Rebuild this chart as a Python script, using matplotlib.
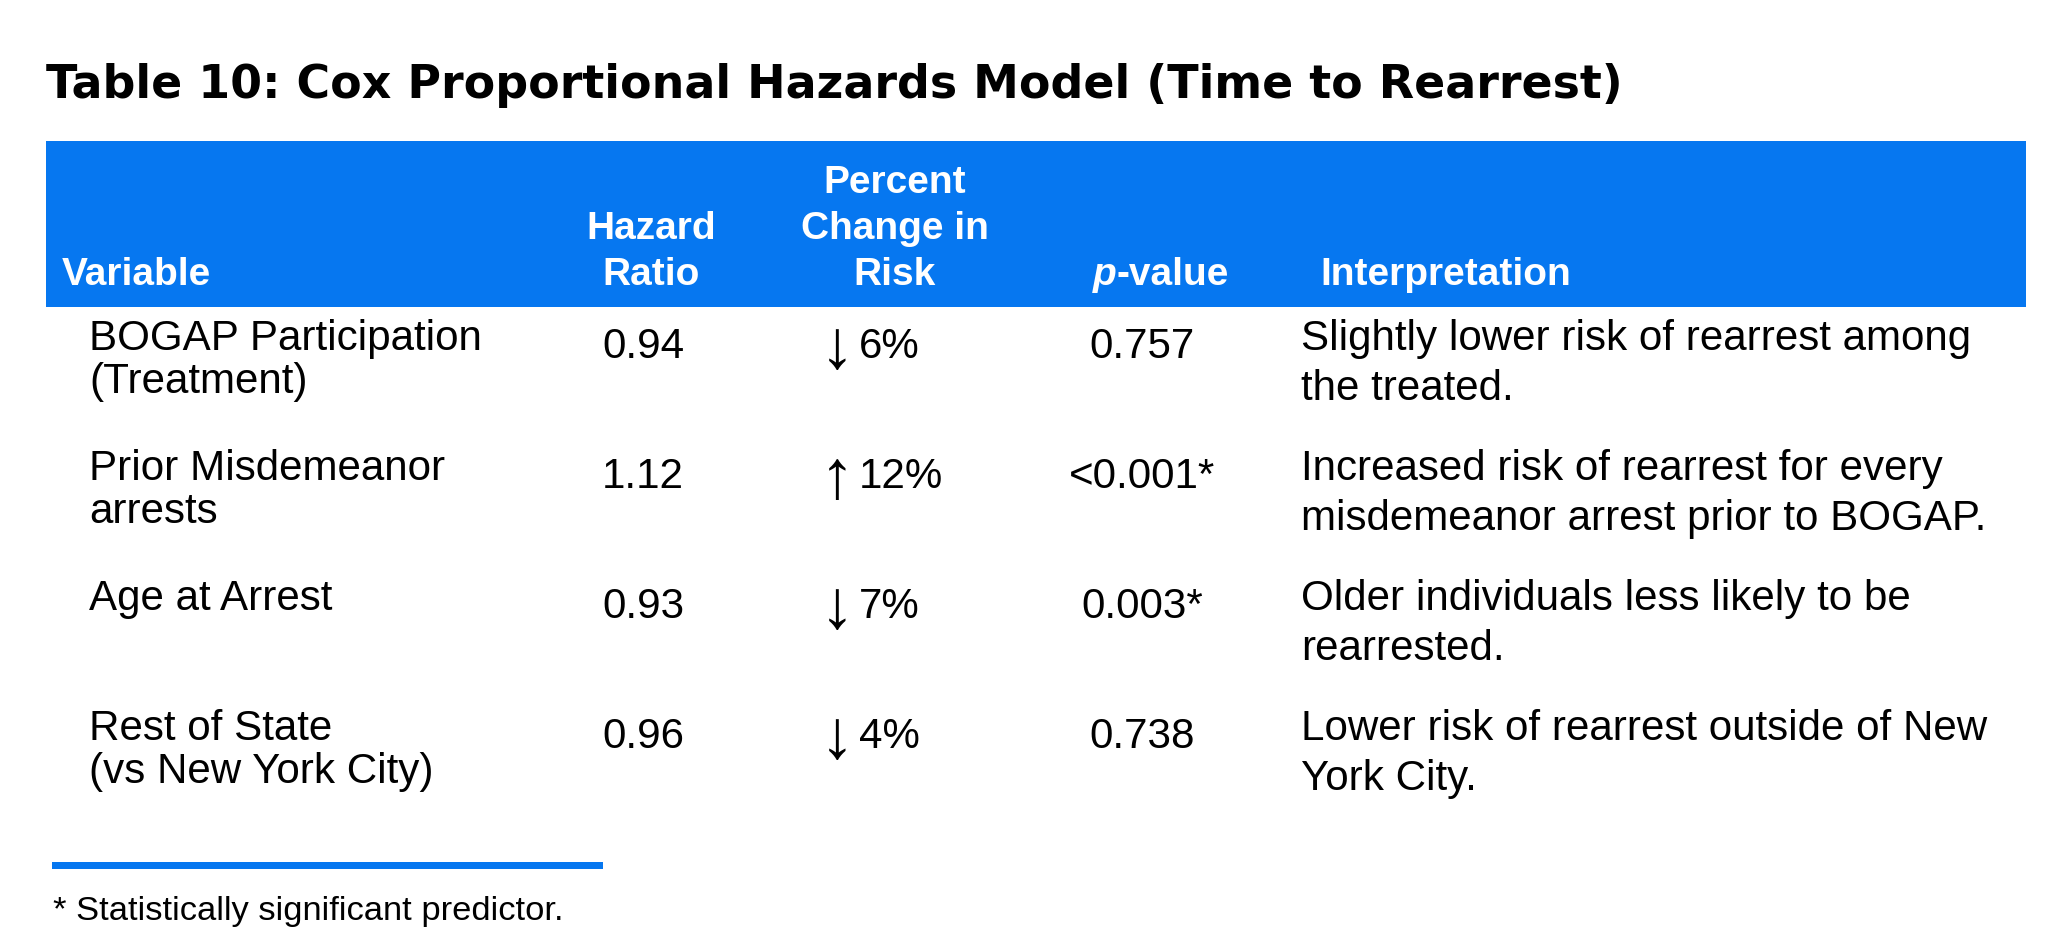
import matplotlib
matplotlib.use("Agg")
import matplotlib.pyplot as plt
from matplotlib.patches import Rectangle

# table content
title = "Table 10: Cox Proportional Hazards Model (Time to Rearrest)"
header_labels = ["Variable", "Hazard\nRatio", "Percent\nChange in\nRisk", "p-value", "Interpretation"]
variables = ["BOGAP Participation\n(Treatment)",
             "Prior Misdemeanor\narrests",
             "Age at Arrest",
             "Rest of State\n(vs New York City)"]
hazard_ratios = [0.94, 1.12, 0.93, 0.96]
pct_change = [-6, 12, -7, -4]
p_values = ["0.757", "<0.001*", "0.003*", "0.738"]
interpretations = ["Slightly lower risk of rearrest among\nthe treated.",
                   "Increased risk of rearrest for every\nmisdemeanor arrest prior to BOGAP.",
                   "Older individuals less likely to be\nrearrested.",
                   "Lower risk of rearrest outside of New\nYork City."]
footnote = "* Statistically significant predictor."

blue = "#0677F0"
body_font = "Liberation Sans"
W, H = 2053, 942

fig = plt.figure(figsize=(W / 100, H / 100), dpi=100)
ax = fig.add_axes([0, 0, 1, 1])
ax.set_xlim(0, W)
ax.set_ylim(H, 0)
ax.axis("off")

# title
ax.text(46, 98, title, fontsize=33, fontweight="bold", family="DejaVu Sans",
        va="baseline", ha="left", color="black")

# header band
ax.add_patch(Rectangle((46, 141), 2026 - 46, 307 - 141, color=blue, lw=0))

hdr_kw = dict(fontsize=28, fontweight="bold", family=body_font, color="white", va="baseline")
hdr_last = 285
hdr_step = 46

def header_lines(x, label, ha):
    lines = label.split("\n")
    for i, line in enumerate(lines):
        y = hdr_last - (len(lines) - 1 - i) * hdr_step
        ax.text(x, y, line, ha=ha, **hdr_kw)

header_lines(62, header_labels[0], "left")
header_lines(651, header_labels[1], "center")
header_lines(895, header_labels[2], "center")
header_lines(1320, header_labels[4], "left")

# p-value header: italic p then "-value"
fig.canvas.draw()
renderer = fig.canvas.get_renderer()
p_txt = ax.text(1093, hdr_last, "p", ha="left", style="italic", **hdr_kw)
pw = p_txt.get_window_extent(renderer).width
ax.text(1093 + pw, hdr_last, header_labels[3][1:], ha="left", **hdr_kw)

# body rows
body_kw = dict(fontsize=30.3, family=body_font, color="black", va="baseline")
row_first = 350
row_pitch = 130
num_drop = 8

for r in range(len(variables)):
    y0 = row_first + r * row_pitch
    for i, line in enumerate(variables[r].split("\n")):
        ax.text(89, y0 + i * 43, line, ha="left", **body_kw)
    ax.text(643, y0 + num_drop, f"{hazard_ratios[r]:.2f}", ha="center", **body_kw)
    arrow = "\u2193" if pct_change[r] < 0 else "\u2191"
    ax.text(820, y0 + num_drop + 10, arrow, ha="left", fontsize=50,
            family=body_font, color="black", va="baseline")
    ax.text(859, y0 + num_drop, f"{abs(pct_change[r])}%", ha="left", **body_kw)
    ax.text(1142, y0 + num_drop, p_values[r], ha="center", **body_kw)
    for i, line in enumerate(interpretations[r].split("\n")):
        ax.text(1301, y0 + i * 50, line, ha="left", **body_kw)

# footnote rule and text
ax.add_patch(Rectangle((52, 862), 603 - 52, 7, color=blue, lw=0))
ax.text(53, 920, footnote, fontsize=24.8, family=body_font, color="black",
        va="baseline", ha="left")

fig.savefig("out.png", dpi=100)
